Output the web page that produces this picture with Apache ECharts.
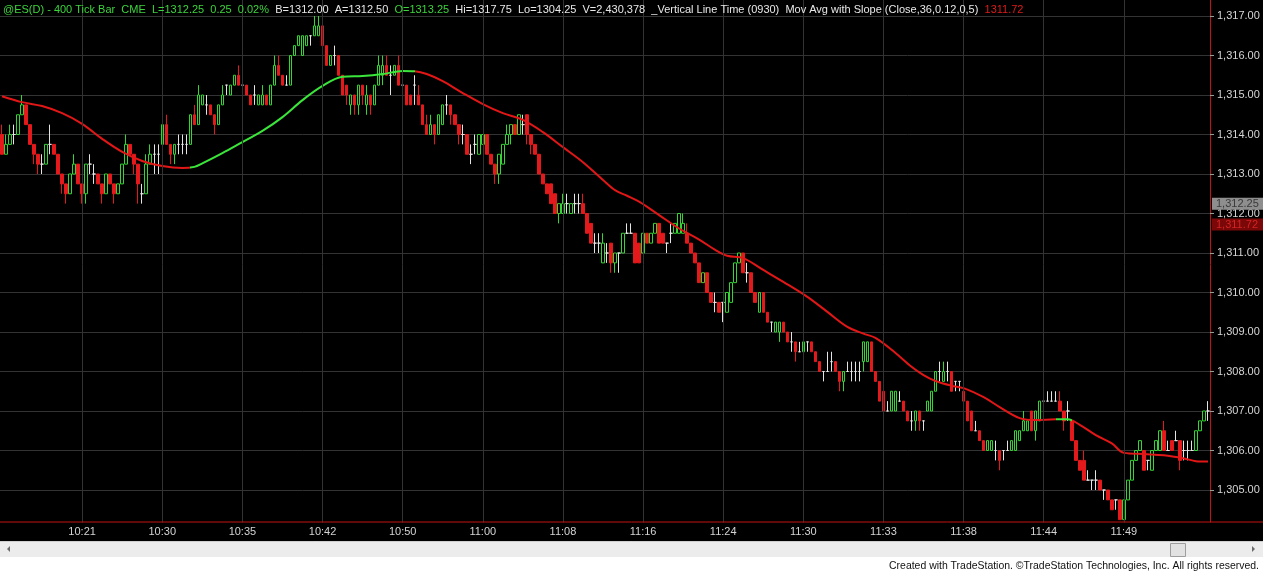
<!DOCTYPE html>
<html><head><meta charset="utf-8">
<script src="https://cdn.jsdelivr.net/npm/echarts@6/dist/echarts.min.js"></script>
<style>html,body{margin:0;padding:0;background:#000;overflow:hidden}#c{width:1263px;height:573px}</style>
</head><body><div id="c"></div>
<script>
// [open, close, low, high] per 400-tick bar
const barsTo1021 = [[1314,1313.5,1313.5,1314.25],[1313.5,1313.75,1313.5,1314],[1313.75,1314,1313.75,1314.25],[1314,1314,1313.75,1314.25],[1314,1314.5,1314,1314.5],[1314.5,1314.75,1314.5,1315],[1314.75,1314.25,1314.25,1314.75],[1314.25,1313.75,1313.75,1314.25],[1313.75,1313.5,1313.25,1313.75],[1313.5,1313.25,1313,1313.5],[1313.25,1313.25,1313,1313.5],[1313.25,1313.75,1313.25,1313.75],[1313.75,1313.75,1313.5,1314.25],[1313.75,1313.5,1313.5,1313.75],[1313.5,1313,1313,1313.5],[1313,1312.75,1312.5,1313],[1312.75,1312.5,1312.25,1312.75],[1312.5,1313,1312.5,1313],[1313,1313.25,1313,1313.5],[1313.25,1312.75,1312.75,1313.25]];
const bars1021 = [[1312.75,1312.5,1312.25,1312.75],[1312.5,1313.25,1312.25,1313.25],[1313.25,1313.25,1313,1313.5],[1313,1313,1312.75,1313.25],[1313,1312.75,1312.75,1313],[1312.75,1312.5,1312.25,1312.75],[1312.5,1313,1312.5,1313],[1313,1312.75,1312.75,1313],[1312.75,1312.5,1312.25,1312.75],[1312.5,1312.75,1312.5,1312.75],[1312.75,1313.25,1312.75,1313.25],[1313.25,1313.75,1313.25,1314],[1313.75,1313.5,1313.5,1313.75],[1313.5,1313.25,1313,1313.5],[1313.25,1312.75,1312.25,1313.25],[1312.5,1312.5,1312.25,1312.75],[1312.5,1313.25,1312.5,1313.5],[1313.25,1313.5,1313.25,1313.75],[1313.5,1313.5,1313,1313.75],[1313.5,1313.5,1313,1313.75]];
const bars1030 = [[1313.75,1314.25,1313.5,1314.5],[1314.25,1313.75,1313.75,1314.5],[1313.75,1313.5,1313.25,1313.75],[1313.5,1313.75,1313.25,1313.75],[1313.75,1313.75,1313.5,1314],[1313.75,1313.75,1313.5,1314],[1313.75,1313.75,1313.5,1314],[1313.75,1314.5,1313.75,1314.5],[1314.5,1314.25,1314.25,1314.75],[1314.25,1315,1314.25,1315.25],[1314.75,1315,1314.75,1315],[1314.75,1314.75,1314.5,1315],[1314.75,1314.5,1314.5,1314.75],[1314.5,1314.25,1314,1314.5],[1314.25,1314.75,1314.25,1314.75],[1314.75,1315,1314.75,1315.25],[1315.25,1315.25,1315,1315.25],[1315,1315.25,1315,1315.25],[1315.25,1315.5,1315.25,1315.5],[1315.5,1315.25,1315.25,1315.75]];
const bars1035 = [[1315.25,1315.25,1315,1315.5],[1315.25,1315,1315,1315.25],[1315,1314.75,1314.75,1315],[1315,1315,1314.75,1315.25],[1314.75,1315,1314.75,1315],[1314.75,1315,1314.75,1315.25],[1315,1314.75,1314.75,1315],[1314.75,1315.25,1314.75,1315.25],[1315.25,1315.75,1315.25,1316],[1315.75,1315.5,1315.5,1316],[1315.5,1315.25,1315.25,1315.5],[1315.25,1315.25,1315.25,1315.5],[1315.25,1316,1315.25,1316],[1316,1316.25,1316,1316.25],[1316.25,1316.5,1316.25,1316.5],[1316,1316.5,1316,1316.5],[1316.25,1316.5,1316.25,1316.5],[1316.5,1316.5,1316.25,1316.5],[1316.5,1316.75,1316.5,1317],[1316.5,1316.75,1316.5,1317]];
const bars1042 = [[1316.75,1316.25,1316.25,1316.75],[1316.25,1315.75,1315.75,1316.25],[1315.75,1316,1315.75,1316],[1316,1316,1315.75,1316.25],[1316,1315.5,1315.5,1316],[1315.5,1315,1315,1315.5],[1315.25,1315,1314.75,1315.25],[1314.75,1315,1314.5,1315],[1315,1314.75,1314.5,1315],[1314.75,1315.25,1314.5,1315.25],[1315.25,1315,1314.75,1315.25],[1314.75,1315,1314.5,1315.25],[1315,1314.75,1314.5,1315],[1314.75,1315.25,1314.75,1315.25],[1315.25,1315.75,1315.25,1316],[1315.5,1315.75,1315.25,1316],[1315.75,1315.5,1315.5,1316],[1315.5,1315.5,1315,1315.75],[1315.5,1315.75,1315.5,1315.75],[1315.75,1315.25,1315.25,1316]];
const bars1050 = [[1315.25,1315.25,1315,1315.5],[1315.25,1314.75,1314.75,1315.25],[1315,1314.75,1314.75,1315],[1315.25,1315.25,1314.75,1315.5],[1315,1314.75,1314.75,1315.25],[1314.75,1314.25,1314.25,1314.75],[1314.25,1314,1314,1314.5],[1314,1314.25,1314,1314.5],[1314.25,1314,1313.75,1314.25],[1314,1314.5,1314,1314.5],[1314.25,1314.75,1314.25,1314.75],[1314.75,1314.75,1314.5,1315],[1314.75,1314.5,1314.25,1314.75],[1314.5,1314.25,1314.25,1314.5],[1314.25,1314,1313.75,1314.25],[1314,1314,1313.75,1314.25],[1314,1313.5,1313.5,1314],[1313.5,1313.5,1313.25,1313.75],[1313.75,1313.75,1313.5,1314],[1313.5,1314,1313.5,1314]];
const bars1100 = [[1313.75,1314,1313.75,1314],[1314,1313.5,1313.5,1314],[1313.5,1313.25,1313.25,1313.5],[1313.25,1313,1312.75,1313.25],[1313,1313.5,1312.75,1313.5],[1313.25,1313.75,1313.25,1313.75],[1313.75,1314,1313.75,1314.25],[1314,1314.25,1313.75,1314.25],[1314.25,1314,1314,1314.25],[1314,1314.5,1314,1314.5],[1314.25,1314.25,1314,1314.5],[1314.5,1314,1313.75,1314.5],[1314,1313.75,1313.5,1314],[1313.75,1313.5,1313.5,1313.75],[1313.5,1313,1313,1313.5],[1313,1312.75,1312.75,1313],[1312.75,1312.5,1312.5,1312.75],[1312.75,1312.25,1312.25,1312.75],[1312.5,1312,1312,1312.5],[1312,1312.25,1311.75,1312.25]];
const bars1108 = [[1312,1312.25,1312,1312.5],[1312.25,1312.25,1312,1312.5],[1312,1312.25,1312,1312.25],[1312.25,1312.25,1312,1312.5],[1312.25,1312.25,1312,1312.5],[1312.25,1312,1312,1312.5],[1312,1311.5,1311.5,1312],[1311.75,1311.25,1311.25,1311.75],[1311.25,1311.25,1311,1311.5],[1311.25,1311.25,1311,1311.5],[1310.75,1311.25,1310.75,1311.5],[1311,1311,1310.75,1311.25],[1311.25,1310.75,1310.5,1311.25],[1310.75,1311,1310.5,1311],[1311,1311,1310.5,1311],[1311,1311.5,1311,1311.5],[1311.5,1311.5,1311.5,1311.75],[1311.5,1311.5,1311.5,1311.75],[1311.5,1310.75,1310.75,1311.5],[1311.25,1310.75,1310.75,1311.25]];
const bars1116 = [[1311,1311.5,1311,1311.5],[1311.5,1311.25,1311.25,1311.5],[1311.25,1311.5,1311.25,1311.5],[1311.5,1311.75,1311.5,1311.75],[1311.75,1311.25,1311.25,1311.75],[1311.5,1311.25,1311.25,1311.5],[1311.25,1311.25,1311,1311.25],[1311.5,1311.5,1311.25,1311.75],[1311.5,1311.75,1311.5,1311.75],[1311.5,1312,1311.5,1312],[1311.5,1311.75,1311.5,1312],[1311.5,1311.25,1311.25,1311.75],[1311.25,1311,1311,1311.25],[1311,1310.75,1310.75,1311],[1310.75,1310.25,1310.25,1310.75],[1310.25,1310.5,1310.25,1310.5],[1310.5,1310,1310,1310.5],[1310,1309.75,1309.75,1310],[1309.75,1309.75,1309.5,1310],[1309.75,1309.5,1309.5,1309.75]];
const bars1124 = [[1309.75,1309.75,1309.25,1309.75],[1309.5,1310,1309.5,1310],[1309.75,1310.25,1309.75,1310.25],[1310.25,1310.75,1310.25,1310.75],[1310.75,1311,1310.75,1311],[1311,1310.5,1310.5,1311],[1310.5,1310.5,1310.25,1310.75],[1310.5,1310,1310,1310.5],[1310,1309.75,1309.75,1310],[1309.5,1310,1309.5,1310],[1310,1309.5,1309.5,1310],[1309.5,1309.25,1309.25,1309.5],[1309.25,1309.25,1309,1309.25],[1309,1309.25,1309,1309.25],[1309,1309.25,1308.75,1309.25],[1309.25,1309,1309,1309.25],[1309,1308.75,1308.75,1309],[1308.75,1308.75,1308.5,1309],[1308.75,1308.5,1308.25,1308.75],[1308.5,1308.5,1308.5,1308.75]];
const bars1130 = [[1308.5,1308.75,1308.5,1309],[1308.75,1308.75,1308.5,1308.75],[1308.75,1308.5,1308.5,1308.75],[1308.5,1308.25,1308.25,1308.5],[1308.25,1308,1308,1308.25],[1308,1308,1307.75,1308],[1308,1308,1308,1308.5],[1308.25,1308.25,1308,1308.5],[1308.25,1308,1308,1308.25],[1308,1307.75,1307.5,1308],[1307.75,1308,1307.5,1308],[1308,1308,1308,1308.25],[1308,1308,1307.75,1308.25],[1308,1308,1307.75,1308.25],[1308,1308,1307.75,1308.25],[1308.25,1308.75,1308,1308.75],[1308.25,1308.75,1308.25,1308.75],[1308.75,1308,1308,1308.75],[1308,1307.75,1307.75,1308],[1307.75,1307.25,1307.25,1307.75]];
const bars1133 = [[1307.5,1307,1307,1307.5],[1307,1307,1307,1307.25],[1307,1307.5,1307,1307.5],[1307,1307.5,1307,1307.5],[1307.25,1307.25,1307.25,1307.5],[1307.25,1307,1307,1307.25],[1307,1306.75,1306.75,1307],[1306.75,1306.75,1306.5,1307],[1306.75,1307,1306.5,1307],[1307,1306.75,1306.5,1307],[1306.75,1306.75,1306.5,1306.75],[1307,1307.25,1307,1307.25],[1307,1307.5,1307,1307.5],[1307.5,1308,1307.5,1308],[1308,1308,1307.75,1308.25],[1307.75,1308,1307.75,1308.25],[1308,1308,1307.75,1308.25],[1308,1307.5,1307.5,1308],[1307.75,1307.75,1307.5,1307.75],[1307.75,1307.75,1307.5,1307.75]];
const bars1138 = [[1307.5,1307.25,1307.25,1307.75],[1307.25,1306.75,1306.75,1307.25],[1307,1306.5,1306.5,1307],[1306.5,1306.5,1306.5,1306.75],[1306.5,1306.25,1306.25,1306.5],[1306.25,1306,1306,1306.25],[1306,1306.25,1306,1306.25],[1306,1306.25,1306,1306.25],[1306,1306,1305.75,1306.25],[1306,1305.75,1305.5,1306],[1306,1306,1305.75,1306],[1306,1306,1306,1306.25],[1306,1306.25,1306,1306.25],[1306,1306.5,1306,1306.5],[1306.25,1306.5,1306.25,1306.5],[1306.5,1306.75,1306.5,1307],[1306.5,1306.75,1306.5,1306.75],[1307,1306.5,1306.5,1307],[1306.5,1307,1306.25,1307],[1306.75,1307.25,1306.75,1307.25]];
const bars1144 = [[1307.25,1307.25,1307,1307.5],[1307.25,1307.25,1307.25,1307.5],[1307.25,1307.25,1307.25,1307.5],[1307.25,1307.25,1307.25,1307.5],[1307.25,1307,1307,1307.5],[1307,1306.75,1306.5,1307],[1307,1307,1306.75,1307.25],[1306.75,1306.25,1306.25,1306.75],[1306.25,1305.75,1305.75,1306.25],[1305.75,1305.5,1305.5,1305.75],[1305.75,1305.25,1305.25,1306],[1305.25,1305.25,1305.25,1305.5],[1305.25,1305.25,1305,1305.25],[1305.25,1305.25,1305,1305.5],[1305.25,1305,1305,1305.25],[1305,1305,1304.75,1305],[1305,1304.75,1304.75,1305],[1304.75,1304.5,1304.5,1304.75],[1304.75,1304.75,1304.5,1304.75],[1304.75,1304.25,1304.25,1304.75]];
const bars1149 = [[1304.25,1304.75,1304.25,1304.75],[1304.75,1305.25,1304.75,1305.25],[1305.25,1305.75,1305.25,1305.75],[1305.75,1306,1305.75,1306],[1306,1306.25,1306,1306.25],[1306,1305.5,1305.5,1306],[1305.75,1305.75,1305.5,1305.75],[1305.5,1306,1305.5,1306],[1306,1306.25,1306,1306.25],[1306,1306.5,1306,1306.5],[1306.5,1306,1306,1306.75],[1306,1306,1306,1306.25],[1306.25,1306,1306,1306.25],[1306.25,1306.25,1306.25,1306.5],[1306.25,1305.75,1305.5,1306.25],[1306,1306,1305.75,1306.25],[1306,1306,1305.75,1306.25],[1306,1306,1306,1306.25],[1306,1306.5,1306,1306.5],[1306.5,1306.75,1306.5,1306.75],[1306.75,1307,1306.75,1307],[1307,1307,1306.75,1307.25]];

// Moving average (Close,36): [barIndex, value]
const maPoints = [[0,1314.97],[5,1314.82],[10,1314.72],[15,1314.54],[20,1314.27],[25,1313.89],[30,1313.56],[35,1313.33],[40,1313.2],[45,1313.15],[48,1313.18],[50,1313.27],[55,1313.53],[60,1313.81],[65,1314.09],[70,1314.44],[75,1314.87],[80,1315.23],[85,1315.46],[90,1315.48],[95,1315.53],[100,1315.61],[103,1315.6],[106,1315.53],[110,1315.35],[115,1315.05],[120,1314.77],[125,1314.54],[130,1314.37],[135,1314.06],[140,1313.68],[145,1313.3],[150,1312.85],[153,1312.59],[156,1312.45],[159,1312.3],[164,1311.96],[169,1311.62],[174,1311.34],[178,1311.08],[181,1310.93],[185,1310.87],[190,1310.57],[195,1310.27],[201,1309.89],[206,1309.51],[211,1309.13],[215,1308.96],[218,1308.85],[223,1308.47],[227,1308.12],[230,1307.91],[233,1307.76],[237,1307.64],[240,1307.58],[245,1307.35],[249,1307.1],[254,1306.82],[258,1306.77],[263,1306.79],[266,1306.79],[269,1306.65],[273,1306.39],[277,1306.18],[280,1305.94],[285,1305.91],[290,1305.88],[295,1305.8],[298,1305.73],[301,1305.72]];
const maRisingRanges = [[47,103],[263,267]];

const timeLabels = ['10:21','10:30','10:35','10:42','10:50','11:00','11:08','11:16','11:24','11:30','11:33','11:38','11:44','11:49'];
const timeLabelIndex = [20,40,60,80,100,120,140,160,180,200,220,240,260,280];
const priceTicks = {min:1304, max:1318, step:1};
const lastPrice = 1312.25;
const maLast = 1311.72;

const GREEN = '#33d633', RED = '#e3191b', DOJI = '#e4e4e4', MA_GREEN = '#3be63b', MA_RED = '#e21616';
const FONT = '"Liberation Sans", Arial, sans-serif';

const allBars = [].concat(barsTo1021,bars1021,bars1030,bars1035,bars1042,bars1050,bars1100,bars1108,bars1116,bars1124,bars1130,bars1133,bars1138,bars1144,bars1149);
const categories = allBars.map((b,i)=>String(i));
const labelMap = {};
timeLabelIndex.forEach((ix,k)=>{labelMap[ix]=timeLabels[k];});
const candleData = allBars.map(b => b[0]===b[1]
  ? {value:b, itemStyle:{color:DOJI,color0:DOJI,borderColor:DOJI,borderColor0:DOJI,borderColorDoji:DOJI}}
  : b);
const fmt = v => v.toLocaleString('en-US',{minimumFractionDigits:2,maximumFractionDigits:2});

const priceTag = (value, bg, fg) => ({
  yAxis: value,
  lineStyle: {color:'rgba(0,0,0,0)', width:0, opacity:1},
  label: {show:true, position:'end', distance:2, formatter: fmt(value), opacity:1,
    backgroundColor:bg, color:fg, fontSize:11, fontFamily:FONT,
    padding:[1,3,0,4], width:44, align:'left'}
});

const chart = echarts.init(document.getElementById('c'), null, {renderer:'canvas'});
chart.setOption({
  backgroundColor:'#000',
  animation:false,
  title:{
    left:3, top:4, padding:0,
    text:'{g|@ES(D) - 400 Tick Bar  CME  L=1312.25  0.25  0.02%}{w|  B=1312.00  A=1312.50  }{g|O=1313.25}{w|  Hi=1317.75  Lo=1304.25  V=2,430,378  _Vertical Line Time (0930)  Mov Avg with Slope (Close,36,0.12,0,5)  }{r|1311.72}',
    textStyle:{fontSize:11, fontFamily:FONT, fontWeight:'normal',
      rich:{
        g:{color:'#3cd43c',fontSize:11,fontFamily:FONT},
        w:{color:'#e8e8e8',fontSize:11,fontFamily:FONT},
        r:{color:'#e01a1a',fontSize:11,fontFamily:FONT}
      }}
  },
  grid:{left:0, top:-23.5, width:1210, height:553, containLabel:false, outerBoundsMode:'none'},
  xAxis:{
    type:'category', data:categories, boundaryGap:true, z:20,
    axisLine:{show:false}, axisTick:{show:false}, splitLine:{show:false},
    axisLabel:{interval:0, margin:-3, color:'#d4d4d4', fontSize:11, fontFamily:FONT,
      formatter:(v,idx)=> labelMap[idx] !== undefined ? labelMap[idx] : ''}
  },
  yAxis:{
    type:'value', position:'right', min:priceTicks.min, max:priceTicks.max, interval:priceTicks.step, scale:true,
    axisLine:{show:true, lineStyle:{color:'#c31212', width:1}},
    axisTick:{show:true, length:4, lineStyle:{color:'#9a9a9a'}},
    splitLine:{show:true, lineStyle:{color:'#333333', width:1}},
    axisLabel:{margin:7, color:'#d6d6d6', fontSize:11, fontFamily:FONT,
      formatter:v => Number.isInteger(v) ? fmt(v) : ''}
  },
  visualMap:{
    type:'piecewise', show:false, seriesIndex:1, dimension:0,
    pieces: maRisingRanges.map(r=>({gte:r[0], lte:r[1], color:MA_GREEN})),
    outOfRange:{color:MA_RED}
  },
  series:[
    {
      type:'candlestick', data:candleData, barWidth:3, z:3,
      itemStyle:{color:'#000', color0:RED, borderColor:GREEN, borderColor0:RED, borderColorDoji:DOJI, borderWidth:1}
    },
    {
      type:'line', data:maPoints, smooth:0.35, symbol:'none', z:4,
      lineStyle:{width:2}
    },
    {
      type:'line', data:[], z:1, symbol:'none',
      markLine:{
        silent:true, symbol:'none', animation:false,
        label:{show:false},
        lineStyle:{color:'#333333', type:'solid', width:1},
        data: timeLabelIndex.map(ix=>({xAxis:String(ix)}))
      }
    },
    {
      type:'line', data:[], z:30, symbol:'none',
      markLine:{
        silent:true, symbol:'none', animation:false,
        data:[priceTag(lastPrice,'#8e8e8e','#3a3a3a'), priceTag(maLast,'#7a0808','#d42424')]
      }
    }
  ],
  graphic:[
    {type:'rect', z:10, shape:{x:0,y:522.5,width:1263,height:19}, style:{fill:'#000'}},
    {type:'line', z:11, shape:{x1:0,y1:522,x2:1263,y2:522}, style:{stroke:'#c31212', lineWidth:1}},
    {type:'rect', z:10, shape:{x:0,y:541,width:1263,height:16}, style:{fill:'#ececec'}},
    {type:'line', z:11, shape:{x1:0,y1:541.5,x2:1263,y2:541.5}, style:{stroke:'#cfcfcf', lineWidth:1}},
    {type:'polygon', z:11, shape:{points:[[10,546],[10,552],[7,549]]}, style:{fill:'#6a6a6a'}},
    {type:'polygon', z:11, shape:{points:[[1252,546],[1252,552],[1255,549]]}, style:{fill:'#6a6a6a'}},
    {type:'rect', z:11, shape:{x:1170.5,y:543.5,width:15,height:13}, style:{fill:'#e2e2e2', stroke:'#9e9e9e', lineWidth:1}},
    {type:'rect', z:10, shape:{x:0,y:557,width:1263,height:16}, style:{fill:'#fff'}},
    {type:'text', z:11, x:1259, y:566, scaleX:0.95, scaleY:1,
      style:{x:0, y:0, text:'Created with TradeStation. \u00A9TradeStation Technologies, Inc. All rights reserved.',
      align:'right', verticalAlign:'middle', fill:'#111', fontSize:11, fontFamily:FONT}}
  ]
});
</script></body></html>
